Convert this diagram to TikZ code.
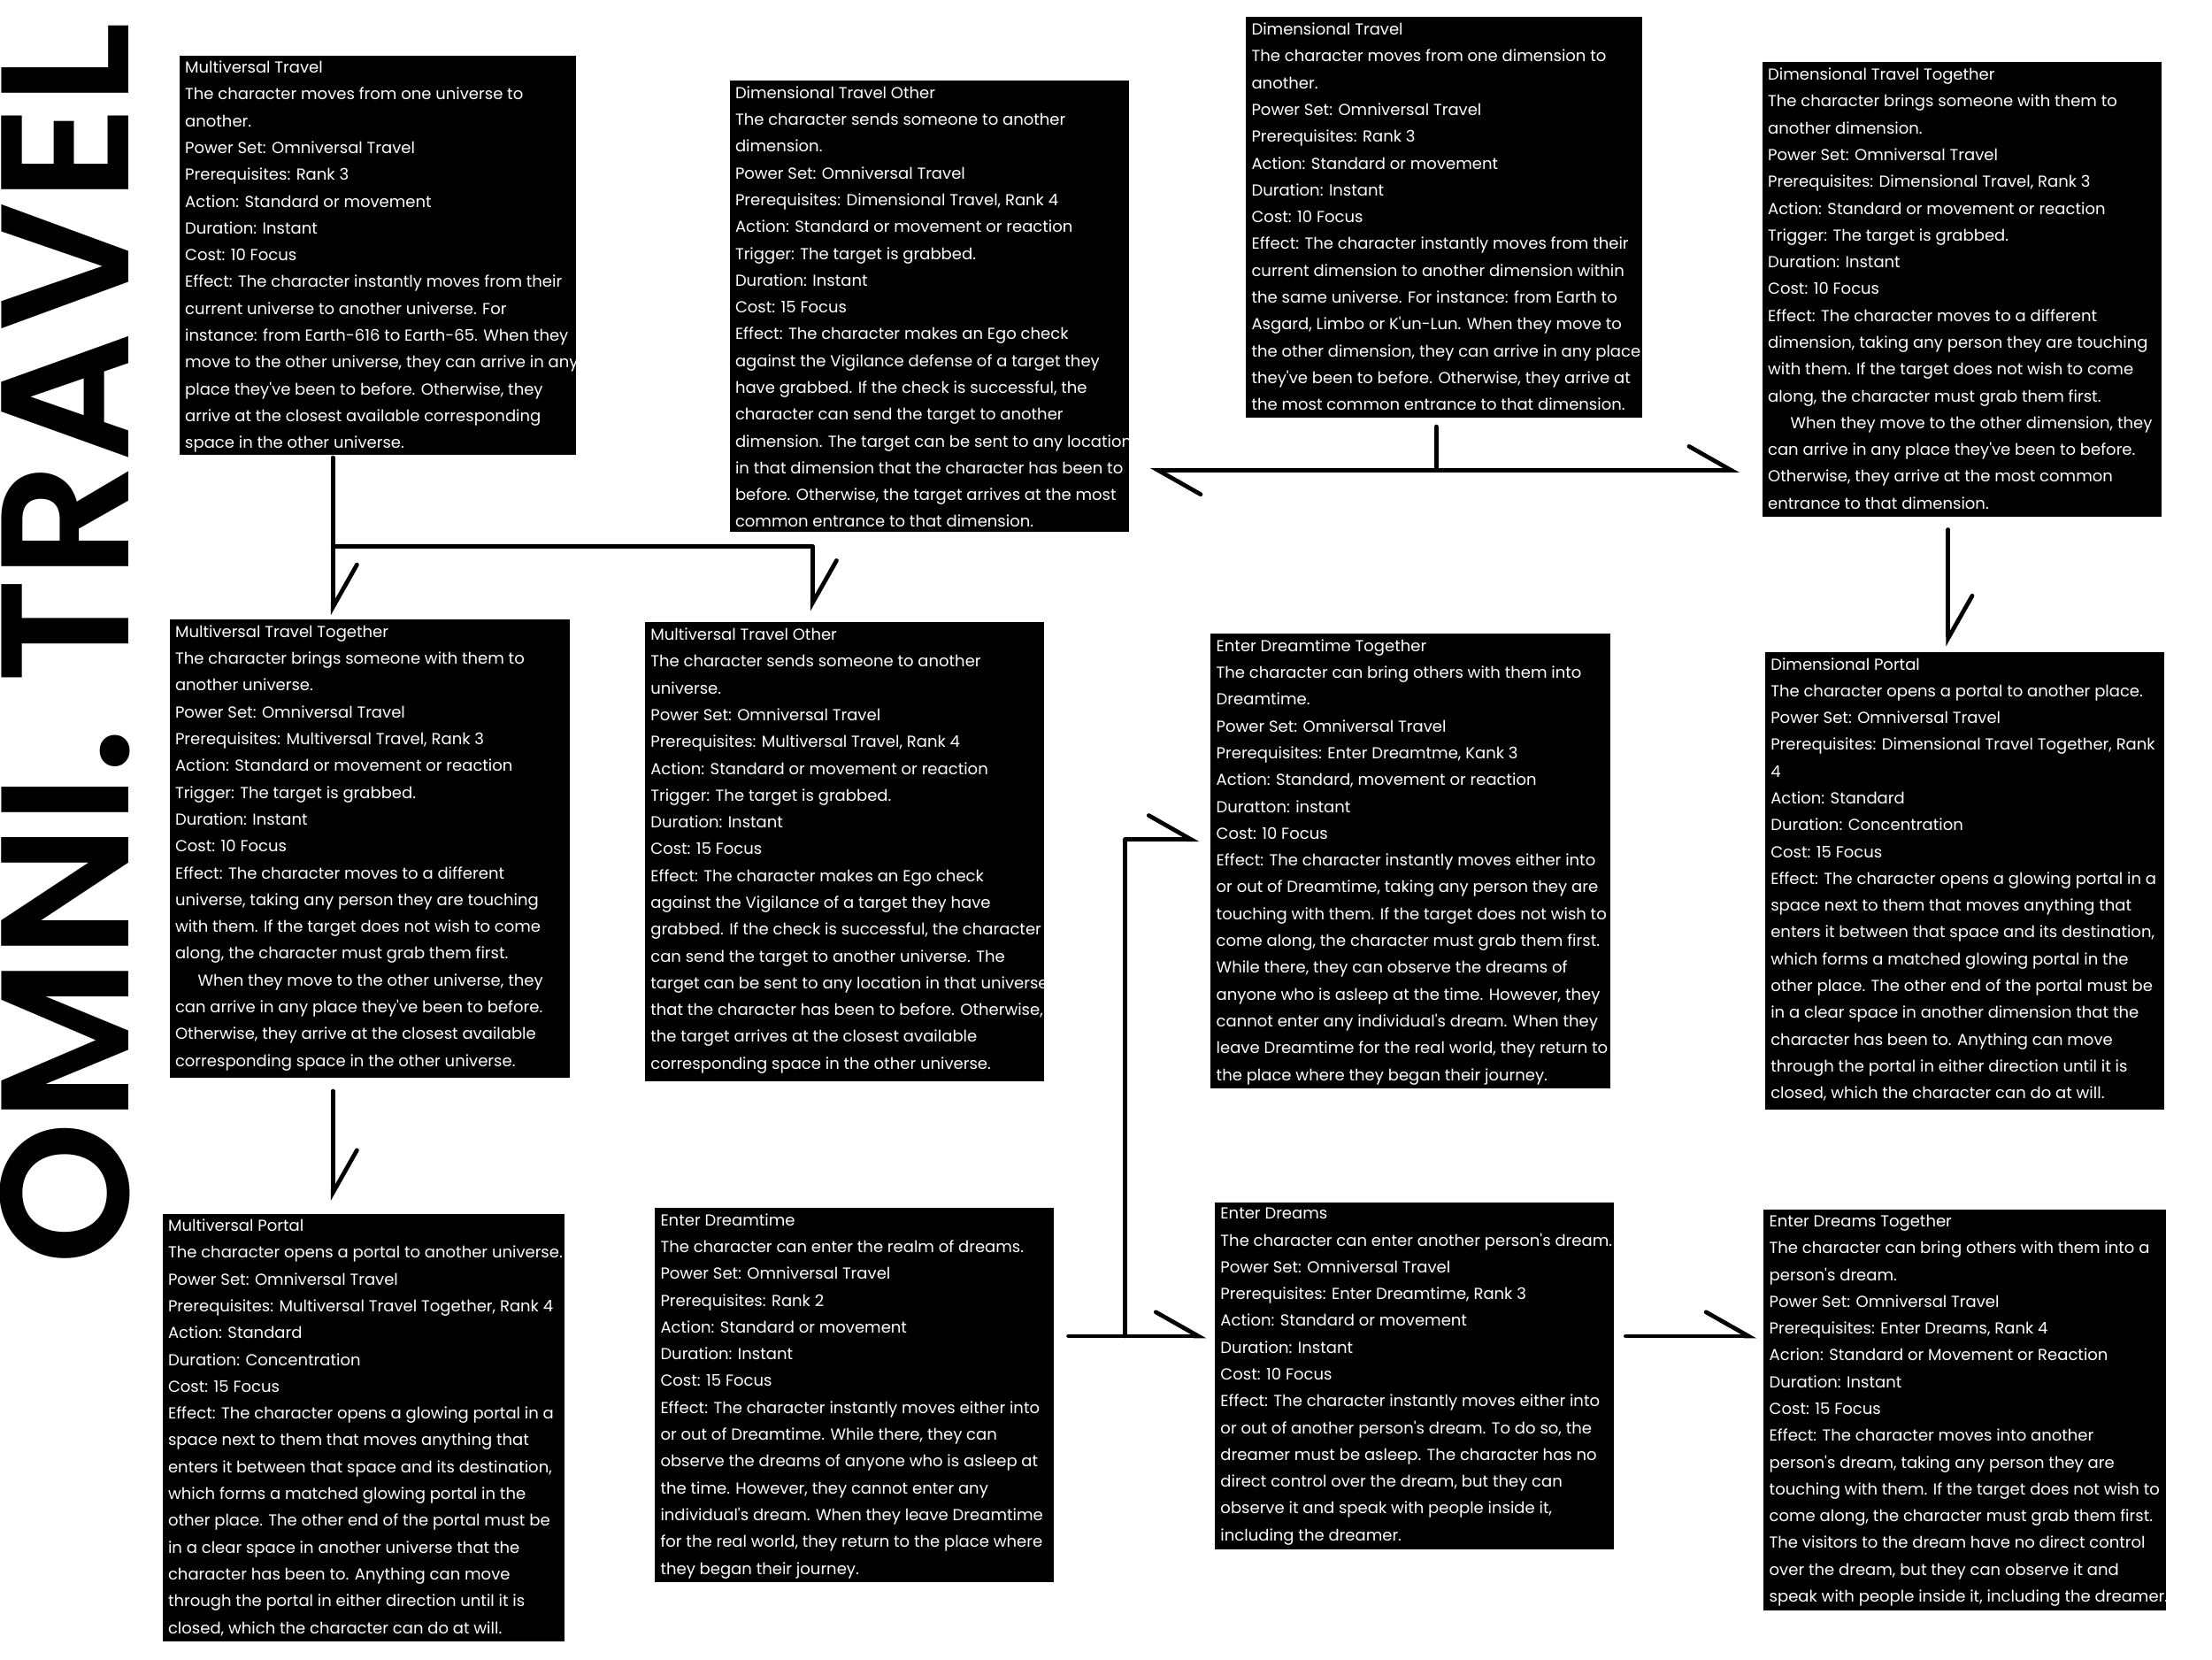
\documentclass[tikz,border=0pt]{standalone}
\usepackage{fontspec}
\usetikzlibrary{arrows.meta}
\newfontfamily\bodyfont{Poppins}
\newfontfamily\titlefont{Poppins SemiBold}
\tikzset{
  card/.style={fill=black, draw=none, inner sep=0pt, anchor=north west},
  txt/.style={text=white, align=left, inner sep=0pt, anchor=north west,
    font={\bodyfont\fontsize{11.3pt}{19pt}\selectfont}},
  link/.style={line width=3pt, line cap=round, line join=round, draw=black},
  harp/.style={link, -{Straight Barb[harpoon, length=30pt, width=34pt, line cap=round]}}
}
\begin{document}
\begin{tikzpicture}[x=1pt, y=-1pt]
\useasboundingbox[fill=white] (0,0) rectangle (1568,1176);

% title
\node[rotate=90, anchor=base west, inner sep=0pt,
  font={\titlefont\fontsize{129pt}{130pt}\selectfont}] (title) at (91,897) {OMNI. TRAVEL};

% boxes
\node[card, minimum width=281pt, minimum height=283pt] (b1) at (127,39) {};
\node[txt] (t1) at ([shift={(4pt,-4pt)}]b1.north west) {Multiversal Travel\\
The character moves from one universe to\\
another.\\
Power Set: Omniversal Travel\\
Prerequisites: Rank 3\\
Action: Standard or movement\\
Duration: Instant\\
Cost: 10 Focus\\
Effect: The character instantly moves from their\\
current universe to another universe. For\\
instance: from Earth-616 to Earth-65. When they\\
move to the other universe, they can arrive in any\\
place they've been to before. Otherwise, they\\
arrive at the closest available corresponding\\
space in the other universe.};

\node[card, minimum width=283pt, minimum height=320pt] (b2) at (517,57) {};
\node[txt] (t2) at ([shift={(4pt,-4pt)}]b2.north west) {Dimensional Travel Other\\
The character sends someone to another\\
dimension.\\
Power Set: Omniversal Travel\\
Prerequisites: Dimensional Travel, Rank 4\\
Action: Standard or movement or reaction\\
Trigger: The target is grabbed.\\
Duration: Instant\\
Cost: 15 Focus\\
Effect: The character makes an Ego check\\
against the Vigilance defense of a target they\\
have grabbed. If the check is successful, the\\
character can send the target to another\\
dimension. The target can be sent to any location\\
in that dimension that the character has been to\\
before. Otherwise, the target arrives at the most\\
common entrance to that dimension.};

\node[card, minimum width=281pt, minimum height=284pt] (b3) at (883,12) {};
\node[txt] (t3) at ([shift={(4pt,-4pt)}]b3.north west) {Dimensional Travel\\
The character moves from one dimension to\\
another.\\
Power Set: Omniversal Travel\\
Prerequisites: Rank 3\\
Action: Standard or movement\\
Duration: Instant\\
Cost: 10 Focus\\
Effect: The character instantly moves from their\\
current dimension to another dimension within\\
the same universe. For instance: from Earth to\\
Asgard, Limbo or K'un-Lun. When they move to\\
the other dimension, they can arrive in any place\\
they've been to before. Otherwise, they arrive at\\
the most common entrance to that dimension.};

\node[card, minimum width=283pt, minimum height=322pt] (b4) at (1249,44) {};
\node[txt] (t4) at ([shift={(4pt,-4pt)}]b4.north west) {Dimensional Travel Together\\
The character brings someone with them to\\
another dimension.\\
Power Set: Omniversal Travel\\
Prerequisites: Dimensional Travel, Rank 3\\
Action: Standard or movement or reaction\\
Trigger: The target is grabbed.\\
Duration: Instant\\
Cost: 10 Focus\\
Effect: The character moves to a different\\
dimension, taking any person they are touching\\
with them. If the target does not wish to come\\
along, the character must grab them first.\\
\hspace*{16pt}When they move to the other dimension, they\\
can arrive in any place they've been to before.\\
Otherwise, they arrive at the most common\\
entrance to that dimension.};

\node[card, minimum width=284pt, minimum height=325pt] (b5) at (120,439) {};
\node[txt] (t5) at ([shift={(4pt,-4pt)}]b5.north west) {Multiversal Travel Together\\
The character brings someone with them to\\
another universe.\\
Power Set: Omniversal Travel\\
Prerequisites: Multiversal Travel, Rank 3\\
Action: Standard or movement or reaction\\
Trigger: The target is grabbed.\\
Duration: Instant\\
Cost: 10 Focus\\
Effect: The character moves to a different\\
universe, taking any person they are touching\\
with them. If the target does not wish to come\\
along, the character must grab them first.\\
\hspace*{16pt}When they move to the other universe, they\\
can arrive in any place they've been to before.\\
Otherwise, they arrive at the closest available\\
corresponding space in the other universe.};

\node[card, minimum width=283pt, minimum height=325pt] (b6) at (457,441) {};
\node[txt] (t6) at ([shift={(4pt,-4pt)}]b6.north west) {Multiversal Travel Other\\
The character sends someone to another\\
universe.\\
Power Set: Omniversal Travel\\
Prerequisites: Multiversal Travel, Rank 4\\
Action: Standard or movement or reaction\\
Trigger: The target is grabbed.\\
Duration: Instant\\
Cost: 15 Focus\\
Effect: The character makes an Ego check\\
against the Vigilance of a target they have\\
grabbed. If the check is successful, the character\\
can send the target to another universe. The\\
target can be sent to any location in that universe\\
that the character has been to before. Otherwise,\\
the target arrives at the closest available\\
corresponding space in the other universe.};

\node[card, minimum width=283pt, minimum height=322pt] (b7) at (858,449) {};
\node[txt] (t7) at ([shift={(4pt,-4pt)}]b7.north west) {Enter Dreamtime Together\\
The character can bring others with them into\\
Dreamtime.\\
Power Set: Omniversal Travel\\
Prerequisites: Enter Dreamtme, Kank 3\\
Action: Standard, movement or reaction\\
Duratton: instant\\
Cost: 10 Focus\\
Effect: The character instantly moves either into\\
or out of Dreamtime, taking any person they are\\
touching with them. If the target does not wish to\\
come along, the character must grab them first.\\
While there, they can observe the dreams of\\
anyone who is asleep at the time. However, they\\
cannot enter any individual's dream. When they\\
leave Dreamtime for the real world, they return to\\
the place where they began their journey.};

\node[card, minimum width=283pt, minimum height=324pt] (b8) at (1251,462) {};
\node[txt] (t8) at ([shift={(4pt,-4pt)}]b8.north west) {Dimensional Portal\\
The character opens a portal to another place.\\
Power Set: Omniversal Travel\\
Prerequisites: Dimensional Travel Together, Rank\\
4\\
Action: Standard\\
Duration: Concentration\\
Cost: 15 Focus\\
Effect: The character opens a glowing portal in a\\
space next to them that moves anything that\\
enters it between that space and its destination,\\
which forms a matched glowing portal in the\\
other place. The other end of the portal must be\\
in a clear space in another dimension that the\\
character has been to. Anything can move\\
through the portal in either direction until it is\\
closed, which the character can do at will.};

\node[card, minimum width=285pt, minimum height=303pt] (b9) at (115,860) {};
\node[txt] (t9) at ([shift={(4pt,-4pt)}]b9.north west) {Multiversal Portal\\
The character opens a portal to another universe.\\
Power Set: Omniversal Travel\\
Prerequisites: Multiversal Travel Together, Rank 4\\
Action: Standard\\
Duration: Concentration\\
Cost: 15 Focus\\
Effect: The character opens a glowing portal in a\\
space next to them that moves anything that\\
enters it between that space and its destination,\\
which forms a matched glowing portal in the\\
other place. The other end of the portal must be\\
in a clear space in another universe that the\\
character has been to. Anything can move\\
through the portal in either direction until it is\\
closed, which the character can do at will.};

\node[card, minimum width=283pt, minimum height=265pt] (b10) at (464,856) {};
\node[txt] (t10) at ([shift={(4pt,-4pt)}]b10.north west) {Enter Dreamtime\\
The character can enter the realm of dreams.\\
Power Set: Omniversal Travel\\
Prerequisites: Rank 2\\
Action: Standard or movement\\
Duration: Instant\\
Cost: 15 Focus\\
Effect: The character instantly moves either into\\
or out of Dreamtime. While there, they can\\
observe the dreams of anyone who is asleep at\\
the time. However, they cannot enter any\\
individual's dream. When they leave Dreamtime\\
for the real world, they return to the place where\\
they began their journey.};

\node[card, minimum width=283pt, minimum height=246pt] (b11) at (861,852) {};
\node[txt] (t11) at ([shift={(4pt,-4pt)}]b11.north west) {Enter Dreams\\
The character can enter another person's dream.\\
Power Set: Omniversal Travel\\
Prerequisites: Enter Dreamtime, Rank 3\\
Action: Standard or movement\\
Duration: Instant\\
Cost: 10 Focus\\
Effect: The character instantly moves either into\\
or out of another person's dream. To do so, the\\
dreamer must be asleep. The character has no\\
direct control over the dream, but they can\\
observe it and speak with people inside it,\\
including the dreamer.};

\node[card, minimum width=285pt, minimum height=284pt] (b12) at (1250,857) {};
\node[txt] (t12) at ([shift={(4pt,-4pt)}]b12.north west) {Enter Dreams Together\\
The character can bring others with them into a\\
person's dream.\\
Power Set: Omniversal Travel\\
Prerequisites: Enter Dreams, Rank 4\\
Acrion: Standard or Movement or Reaction\\
Duration: Instant\\
Cost: 15 Focus\\
Effect: The character moves into another\\
person's dream, taking any person they are\\
touching with them. If the target does not wish to\\
come along, the character must grab them first.\\
The visitors to the dream have no direct control\\
over the dream, but they can observe it and\\
speak with people inside it, including the dreamer.};

% junctions
\coordinate (jm) at ([shift={(109pt,-65pt)}]b1.south west);
\coordinate (jd) at ([shift={(135pt,-37pt)}]b3.south west);
\coordinate (jr) at ([shift={(50pt,-91pt)}]b10.north east);

% connectors
\draw[harp] ([shift={(109pt,-2pt)}]b1.south west) -- ([shift={(116pt,3pt)}]b5.north west);
\draw[harp] (jm) -| ([shift={(119pt,8pt)}]b6.north west);
\draw[link] ([shift={(135pt,-6pt)}]b3.south west) -- (jd);
\draw[harp] (jd) -- ([xshift=15pt]b2.east |- jd);
\draw[harp] (jd) -- ([xshift=-16pt]b4.west |- jd);
\draw[harp] ([shift={(132pt,-9pt)}]b4.south west) -- ([shift={(130pt,4pt)}]b8.north west);
\draw[harp] ([shift={(116pt,-9pt)}]b5.south west) -- ([shift={(121pt,9pt)}]b9.north west);
\draw[harp] ([shift={(10pt,-91pt)}]b10.north east) -- ([shift={(-6pt,-95pt)}]b11.north west);
\draw[harp] (jr) |- ([shift={(-8pt,-146pt)}]b7.north west);
\draw[harp] ([shift={(8pt,-95pt)}]b11.north east) -- ([shift={(-5pt,-90pt)}]b12.north west);
\end{tikzpicture}
\end{document}
